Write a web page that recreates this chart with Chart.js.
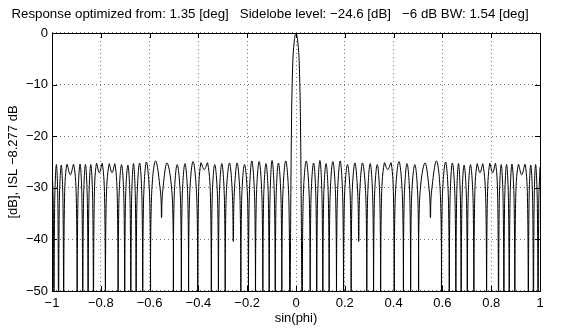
<!DOCTYPE html>
<html>
<head>
<meta charset="utf-8">
<script src="https://cdn.jsdelivr.net/npm/chart.js@4.4.1/dist/chart.umd.min.js"></script>
<style>
  html, body { margin: 0; padding: 0; background: #fff; }
  #wrap { width: 577px; height: 329px; }
</style>
</head>
<body>
<div id="wrap"><canvas id="beamChart" width="577" height="329"></canvas></div>
<script>
// beam pattern: sin(phi) vs dB.
// nulls go below the -50 floor; the -33 / -31 points are the lobe flanks just above each null
const leftSin = [
    -1.000, -0.995, -0.992, -0.989, -0.982, -0.976, -0.973, -0.970, -0.962, -0.955, -0.952, -0.949,
    -0.939, -0.925, -0.911, -0.900, -0.897, -0.894, -0.885, -0.877, -0.874, -0.871, -0.863, -0.855,
    -0.852, -0.849, -0.841, -0.833, -0.830, -0.827, -0.818, -0.806, -0.794, -0.784, -0.781, -0.778,
    -0.766, -0.754, -0.742, -0.732, -0.729, -0.726, -0.715, -0.705, -0.702, -0.699, -0.689, -0.680,
    -0.677, -0.674, -0.666, -0.658, -0.655, -0.652, -0.641, -0.631, -0.628, -0.625, -0.613, -0.599,
    -0.596, -0.593, -0.576, -0.555, -0.551, -0.547, -0.528, -0.506, -0.503, -0.500, -0.487, -0.473,
    -0.470, -0.467, -0.455, -0.443, -0.440, -0.437, -0.422, -0.406, -0.403, -0.400, -0.390, -0.376,
    -0.362, -0.350, -0.347, -0.344, -0.333, -0.321, -0.318, -0.315, -0.304, -0.293, -0.290, -0.287,
    -0.273, -0.261, -0.257, -0.253, -0.241, -0.229, -0.226, -0.223, -0.211, -0.198, -0.195, -0.192,
    -0.181, -0.169, -0.166, -0.163, -0.151, -0.139, -0.136, -0.133, -0.123, -0.113, -0.110, -0.107,
    -0.098, -0.088, -0.085, -0.082, -0.072, -0.061, -0.058, -0.055, -0.042, -0.029, -0.026, -0.019,
    -0.0134, -0.007
];
const leftDb = [
    -26.0, -33, -60, -33, -25.5, -33, -60, -33, -25.6, -33, -60, -33,
    -25.5, -27.5, -25.5, -33, -60, -33, -25.4, -33, -60, -33, -25.5, -33,
    -60, -33, -25.5, -33, -60, -33, -25.3, -27.1, -25.3, -33, -60, -33,
    -25.4, -27.1, -25.4, -33, -60, -33, -25.5, -33, -60, -33, -25.6, -33,
    -60, -33, -25.3, -33, -60, -33, -25.2, -33, -60, -33, -25.0, -33,
    -60, -33, -24.8, -31, -35.8, -31, -25.2, -33, -60, -33, -25.5, -33,
    -60, -33, -25.3, -33, -60, -33, -24.9, -33, -60, -33, -25.2, -26.5,
    -25.2, -33, -60, -33, -25.5, -33, -60, -33, -25.3, -33, -60, -33,
    -25.2, -31, -40.4, -31, -25.2, -33, -60, -33, -25.5, -33, -60, -33,
    -24.8, -33, -60, -33, -24.9, -33, -60, -33, -25.3, -33, -60, -33,
    -24.7, -33, -60, -33, -25.2, -33, -60, -33, -24.8, -33, -60, -20,
    -6, -1.6
];
const rightSin = [
    0, 0.007, 0.0134, 0.019, 0.026, 0.029, 0.042, 0.055, 0.058, 0.061, 0.072, 0.082,
    0.085, 0.088, 0.098, 0.107, 0.110, 0.113, 0.123, 0.133, 0.136, 0.139, 0.151, 0.163,
    0.166, 0.169, 0.181, 0.192, 0.195, 0.198, 0.211, 0.223, 0.226, 0.229, 0.241, 0.253,
    0.257, 0.261, 0.273, 0.287, 0.290, 0.293, 0.304, 0.315, 0.318, 0.321, 0.333, 0.344,
    0.347, 0.350, 0.362, 0.376, 0.390, 0.400, 0.403, 0.406, 0.422, 0.437, 0.440, 0.443,
    0.455, 0.467, 0.470, 0.473, 0.487, 0.500, 0.503, 0.506, 0.528, 0.547, 0.551, 0.555,
    0.576, 0.593, 0.596, 0.599, 0.613, 0.625, 0.628, 0.631, 0.641, 0.652, 0.655, 0.658,
    0.666, 0.674, 0.677, 0.680, 0.689, 0.699, 0.702, 0.705, 0.715, 0.726, 0.729, 0.732,
    0.742, 0.754, 0.766, 0.778, 0.781, 0.784, 0.794, 0.806, 0.818, 0.827, 0.830, 0.833,
    0.841, 0.849, 0.852, 0.855, 0.863, 0.871, 0.874, 0.877, 0.885, 0.894, 0.897, 0.900,
    0.911, 0.925, 0.939, 0.949, 0.952, 0.955, 0.962, 0.970, 0.973, 0.976, 0.982, 0.989,
    0.992, 0.995, 1.000
];
const rightDb = [
    0, -1.6, -6, -20, -60, -33, -24.8, -33, -60, -33, -25.2, -33,
    -60, -33, -24.7, -33, -60, -33, -25.3, -33, -60, -33, -24.9, -33,
    -60, -33, -24.8, -33, -60, -33, -25.5, -33, -60, -33, -25.2, -31,
    -40.4, -31, -25.2, -33, -60, -33, -25.3, -33, -60, -33, -25.5, -33,
    -60, -33, -25.2, -26.5, -25.2, -33, -60, -33, -24.9, -33, -60, -33,
    -25.3, -33, -60, -33, -25.5, -33, -60, -33, -25.2, -31, -35.8, -31,
    -24.8, -33, -60, -33, -25.0, -33, -60, -33, -25.2, -33, -60, -33,
    -25.3, -33, -60, -33, -25.6, -33, -60, -33, -25.5, -33, -60, -33,
    -25.4, -27.1, -25.4, -33, -60, -33, -25.3, -27.1, -25.3, -33, -60, -33,
    -25.5, -33, -60, -33, -25.5, -33, -60, -33, -25.4, -33, -60, -33,
    -25.5, -27.5, -25.5, -33, -60, -33, -25.6, -33, -60, -33, -25.5, -33,
    -60, -33, -26.0
];

const xTickLabels = ["\u22121", "\u22120.8", "\u22120.6", "\u22120.4", "\u22120.2", "0", "0.2", "0.4", "0.6", "0.8", "1"];
const yTickLabels = ["\u221250", "\u221240", "\u221230", "\u221220", "\u221210", "0"];

const titleText = "Response optimized from: 1.35 [deg]   Sidelobe level: \u221224.6 [dB]   \u22126 dB BW: 1.54 [deg]";
const xTitle = "sin(phi)";
const yTitle = "[dB], ISL \u22128.277 dB";

const sinPhi = leftSin.concat(rightSin);
const responseDb = leftDb.concat(rightDb);
const points = sinPhi.map((s, i) => ({x: s, y: responseDb[i]}));

const FONT = "'Liberation Sans', Arial, Helvetica, sans-serif";

// solid box + inward tick marks, matlab style
const boxTicks = {
    id: "boxTicks",
    afterDraw(chart) {
        const {ctx, chartArea: a, scales} = chart;
        ctx.save();
        ctx.strokeStyle = "#000";
        ctx.lineWidth = 1;
        ctx.strokeRect(Math.round(a.left) + 0.5, Math.round(a.top) + 0.5,
            Math.round(a.right - a.left), Math.round(a.bottom - a.top));
        const len = 5;
        ctx.beginPath();
        scales.x.ticks.forEach(t => {
            const px = Math.round(scales.x.getPixelForValue(t.value)) + 0.5;
            ctx.moveTo(px, a.bottom); ctx.lineTo(px, a.bottom - len);
            ctx.moveTo(px, a.top); ctx.lineTo(px, a.top + len);
        });
        scales.y.ticks.forEach(t => {
            const py = Math.round(scales.y.getPixelForValue(t.value)) + 0.5;
            ctx.moveTo(a.left, py); ctx.lineTo(a.left + len, py);
            ctx.moveTo(a.right, py); ctx.lineTo(a.right - len, py);
        });
        ctx.stroke();
        ctx.restore();
    }
};

new Chart(document.getElementById("beamChart"), {
    type: "line",
    data: {
        datasets: [{
            data: points,
            borderColor: "#000",
            borderWidth: 1,
            pointRadius: 0,
            tension: 0.4,
            fill: false
        }]
    },
    options: {
        responsive: false,
        animation: false,
        events: [],
        layout: {padding: {left: 0, right: 37, top: 0, bottom: 0}},
        plugins: {
            legend: {display: false},
            tooltip: {enabled: false},
            title: {
                display: true,
                text: titleText,
                color: "#000",
                font: {family: FONT, size: 13.3, weight: "normal", lineHeight: 1.2},
                padding: {top: 6, bottom: 11}
            }
        },
        scales: {
            x: {
                type: "linear",
                min: -1,
                max: 1,
                afterFit(scale) { scale.height = 38; },
                ticks: {
                    stepSize: 0.2,
                    color: "#000",
                    padding: 5,
                    maxRotation: 0,
                    autoSkip: false,
                    font: {family: FONT, size: 13},
                    callback: (v, i) => xTickLabels[i]
                },
                grid: {color: "rgba(0,0,0,0.55)", drawTicks: false, lineWidth: 1},
                border: {display: false, dash: [1, 3]},
                title: {
                    display: true,
                    text: xTitle,
                    color: "#000",
                    font: {family: FONT, size: 13, lineHeight: 1.2},
                    padding: {top: 0, bottom: 3.2}
                }
            },
            y: {
                min: -50,
                max: 0,
                afterFit(scale) { scale.width = 52; },
                ticks: {
                    stepSize: 10,
                    color: "#000",
                    padding: 4,
                    font: {family: FONT, size: 13},
                    callback: (v, i) => yTickLabels[i]
                },
                grid: {color: "rgba(0,0,0,0.55)", drawTicks: false, lineWidth: 1},
                border: {display: false, dash: [1, 3]},
                title: {
                    display: true,
                    text: yTitle,
                    color: "#000",
                    font: {family: FONT, size: 13, lineHeight: 1.2},
                    padding: {top: 5.2, bottom: 0}
                }
            }
        }
    },
    plugins: [boxTicks]
});
</script>
</body>
</html>
